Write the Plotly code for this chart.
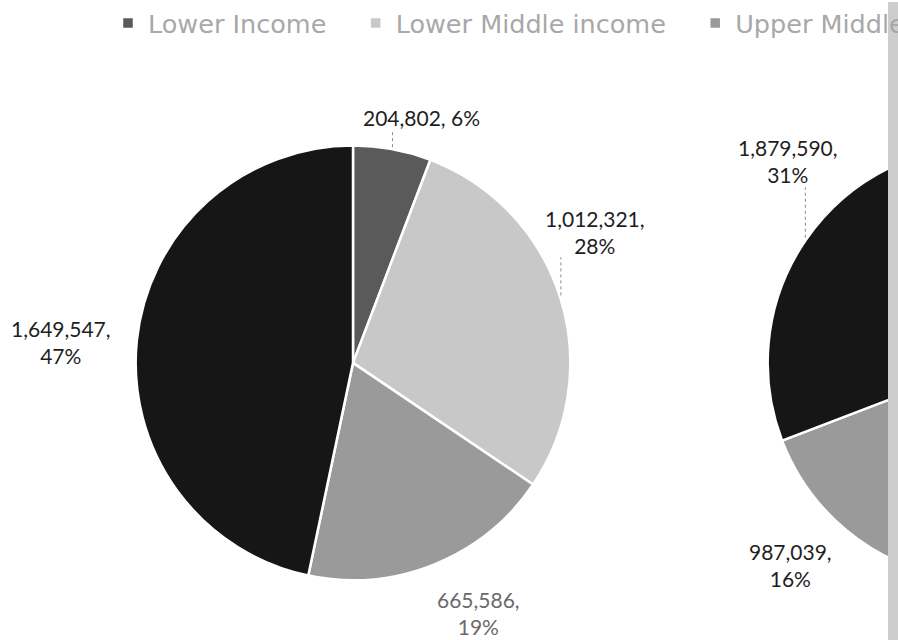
import math
import plotly.graph_objects as go

# ---- data -------------------------------------------------------------
categories = ["Lower Income", "Lower Middle income", "Upper Middle income", "High income"]

left_values = [204802, 1012321, 665586, 1649547]
left_pct = [6, 28, 19, 47]

right_values = [380000, 2850000, 987039, 1879590]
right_pct = [6, 47, 16, 31]

slice_colors = ["#5a5a5a", "#c8c8c8", "#9a9a9a", "#161616"]

# ---- canvas / geometry (pixels) ---------------------------------------
W, H = 1340, 640
RADIUS = 218
pie_centers = [(353, 362), (985, 362)]

# legend entries get a little trailing room so the items spread out
legend_names = [c + "\u00a0" * 3 for c in categories]

# label centres per slice (pixels) and label colours
label_pos = [
    [(421, 116), (595, 231), (478, 613), (61, 341)],
    [(1040, 116), (1250, 420), (790, 565), (788, 159)],
]
label_colors = [
    ["#1e1e1e", "#1e1e1e", "#6a6a6a", "#1e1e1e"],
    ["#1e1e1e", "#1e1e1e", "#1e1e1e", "#1e1e1e"],
]
# leader lines: (pie, slice, bottom edge of label in px)
leaders = [(0, 0, 129), (0, 1, 256), (1, 3, 186)]


def px_x(x):
    return x / W


def px_y(y):
    return 1 - y / H


def mid_point(values, idx, center):
    total = sum(values)
    cum = sum(values[:idx]) + values[idx] / 2
    ang = math.radians(360 * cum / total)
    cx, cy = center
    return cx + RADIUS * math.sin(ang), cy - RADIUS * math.cos(ang)


fig = go.Figure()
series = [(left_values, left_pct), (right_values, right_pct)]
for k, (vals, _) in enumerate(series):
    cx, cy = pie_centers[k]
    fig.add_trace(go.Pie(
        labels=legend_names,
        values=vals,
        sort=False,
        direction="clockwise",
        rotation=0,
        textinfo="none",
        hoverinfo="label+value+percent",
        marker=dict(colors=slice_colors, line=dict(color="white", width=2.5)),
        domain=dict(x=[px_x(cx - RADIUS), px_x(cx + RADIUS)],
                    y=[px_y(cy + RADIUS), px_y(cy - RADIUS)]),
        showlegend=(k == 0),
    ))

annotations = []
for k, (vals, pcts) in enumerate(series):
    for i, (v, p) in enumerate(zip(vals, pcts)):
        sep = " " if i == 0 and k == 0 else "<br>"
        x, y = label_pos[k][i]
        annotations.append(dict(
            x=px_x(x), y=px_y(y), xref="paper", yref="paper",
            text=f"{v:,},{sep}{p}%", showarrow=False,
            xanchor="center", yanchor="middle", align="center",
            font=dict(family="Lato, Carlito, sans-serif", size=21, color=label_colors[k][i]),
        ))

shapes = []
for k, i, ybot in leaders:
    vals = series[k][0]
    ax, ay = mid_point(vals, i, pie_centers[k])
    shapes.append(dict(
        type="line", xref="paper", yref="paper",
        x0=px_x(ax), y0=px_y(ay - 2), x1=px_x(ax), y1=px_y(ybot),
        line=dict(color="#8a8a8a", width=1, dash="dot"),
    ))

# vertical grey band on the right
shapes.append(dict(
    type="rect", xref="paper", yref="paper", layer="above",
    x0=px_x(888), x1=px_x(899), y0=0, y1=1,
    fillcolor="#cdcdcd", line=dict(width=0),
))

fig.update_layout(
    width=W, height=H,
    margin=dict(l=0, r=0, t=0, b=0),
    paper_bgcolor="white",
    plot_bgcolor="white",
    annotations=annotations,
    shapes=shapes,
    legend=dict(
        orientation="h",
        x=px_x(108), y=px_y(-2), xanchor="left", yanchor="top",
        font=dict(family="DejaVu Sans, sans-serif", size=25.5, color="#a8a8a8"),
        bgcolor="rgba(0,0,0,0)",
    ),
)

fig.write_html("out.html")
